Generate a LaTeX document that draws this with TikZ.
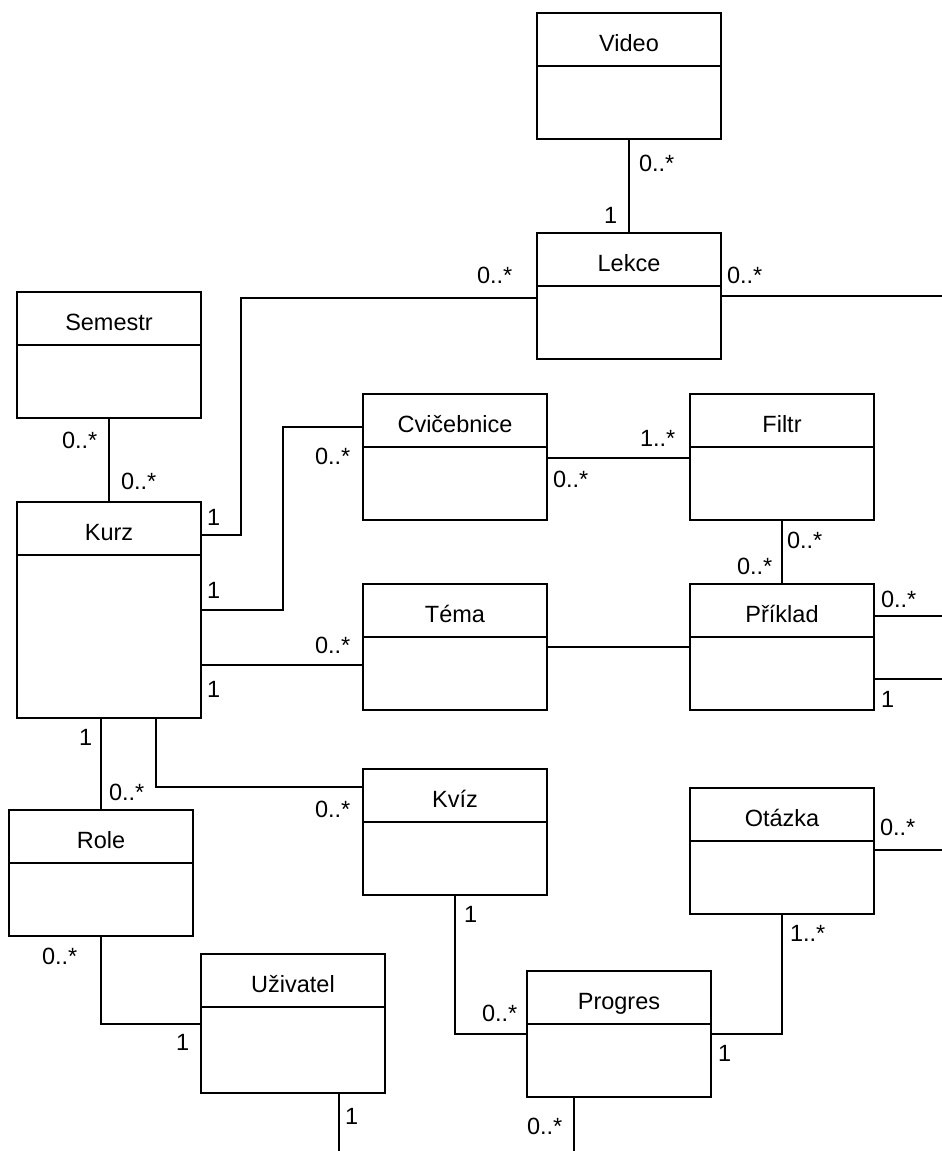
\documentclass[tikz,border=0pt]{standalone}
\usepackage{fontspec}
\setmainfont{Liberation Sans}
\usetikzlibrary{calc}

\tikzset{
  every node/.style={font=\fontsize{23.5}{28}\selectfont, inner sep=0pt, outer sep=0pt},
  classbox/.style={draw=black, line width=1.8pt, minimum width=184pt, fill=white},
  divider/.style={draw=black, line width=1.8pt},
  conn/.style={draw=black, line width=1.5pt},
  mult/.style={anchor=base west, text=black},
}

% UML class: name, left x, top y, height, title
\newcommand\umlclass[5]{%
  \node[classbox, minimum height=#4pt, anchor=north west] (#1) at (#2,#3) {};
  \draw[divider] ([yshift=-53pt]#1.north west) -- ([yshift=-53pt]#1.north east);
  \node[anchor=base] (#1-title) at ([yshift=-38pt]#1.north) {#5};
}

\begin{document}
\begin{tikzpicture}[x=1pt,y=-1pt]
\useasboundingbox (0,0) rectangle (942,1151);

% classes
\umlclass{video}{537}{13}{126}{Video}
\umlclass{lekce}{537}{233}{126}{Lekce}
\umlclass{semestr}{17}{292}{126}{Semestr}
\umlclass{kurz}{17}{502}{216}{Kurz}
\umlclass{cvicebnice}{363}{394}{126}{Cvičebnice}
\umlclass{filtr}{690}{394}{126}{Filtr}
\umlclass{tema}{363}{584}{126}{Téma}
\umlclass{priklad}{690}{584}{126}{Příklad}
\umlclass{kviz}{363}{769}{126}{Kvíz}
\umlclass{otazka}{690}{788}{126}{Otázka}
\umlclass{role}{9}{810}{126}{Role}
\umlclass{uzivatel}{201}{954}{139}{Uživatel}
\umlclass{progres}{527}{971}{126}{Progres}

% loose ends leaving the sheet
\coordinate (lekceOut) at (942,296);
\coordinate (prikladOutA) at (942,616);
\coordinate (prikladOutB) at (942,679);
\coordinate (otazkaOut) at (942,850);
\coordinate (uzivatelOut) at (339,1151);
\coordinate (progresOut) at (574,1151);

% associations
\draw[conn] (video.south) -- (lekce.north);
\draw[conn] (lekce.west |- 0,298) -| (241,535) -- (kurz.east |- 0,535);
\draw[conn] (lekce.east |- lekceOut) -- (lekceOut);
\draw[conn] (semestr.south) -- (kurz.north);
\draw[conn] (kurz.east |- 0,610) -| (283,427) -- (cvicebnice.west |- 0,427);
\draw[conn] (kurz.east |- 0,665) -- (tema.west |- 0,665);
\draw[conn] (cvicebnice.east |- 0,458) -- (filtr.west |- 0,458);
\draw[conn] (filtr.south) -- (priklad.north);
\draw[conn] (tema.east |- 0,647) -- (priklad.west |- 0,647);
\draw[conn] (priklad.east |- prikladOutA) -- (prikladOutA);
\draw[conn] (priklad.east |- prikladOutB) -- (prikladOutB);
\draw[conn] (role.north) -- (role.north |- kurz.south);
\draw[conn] (kurz.south -| 156,0) |- (kviz.west |- 0,787);
\draw[conn] (role.south) |- (uzivatel.west |- 0,1024);
\draw[conn] (uzivatel.south -| uzivatelOut) -- (uzivatelOut);
\draw[conn] (kviz.south) |- (progres.west |- 0,1034);
\draw[conn] (progres.east |- 0,1034) -| (otazka.south);
\draw[conn] (otazka.east |- otazkaOut) -- (otazkaOut);
\draw[conn] (progres.south -| progresOut) -- (progresOut);

% multiplicities
\node[mult] (m1) at (639,171) {0..*};
\node[mult] (m2) at (604,223) {1};
\node[mult] (m3) at (727,283) {0..*};
\node[mult] (m4) at (477,283) {0..*};
\node[mult] (m5) at (62,448) {0..*};
\node[mult] (m6) at (121,489) {0..*};
\node[mult] (m7) at (207,525) {1};
\node[mult] (m8) at (207,598) {1};
\node[mult] (m9) at (315,464) {0..*};
\node[mult] (m10) at (315,653) {0..*};
\node[mult] (m11) at (207,697) {1};
\node[mult] (m12) at (640,446) {1..*};
\node[mult] (m13) at (553,487) {0..*};
\node[mult] (m14) at (787,548) {0..*};
\node[mult] (m15) at (737,574) {0..*};
\node[mult] (m16) at (881,607) {0..*};
\node[mult] (m17) at (881,707) {1};
\node[mult] (m18) at (79,745) {1};
\node[mult] (m19) at (109,800) {0..*};
\node[mult] (m20) at (315,817) {0..*};
\node[mult] (m21) at (42,964) {0..*};
\node[mult] (m22) at (176,1050) {1};
\node[mult] (m23) at (345,1124) {1};
\node[mult] (m24) at (464,922) {1};
\node[mult] (m25) at (482,1021) {0..*};
\node[mult] (m26) at (527,1134) {0..*};
\node[mult] (m27) at (718,1061) {1};
\node[mult] (m28) at (790,941) {1..*};
\node[mult] (m29) at (880,835) {0..*};
\end{tikzpicture}
\end{document}
